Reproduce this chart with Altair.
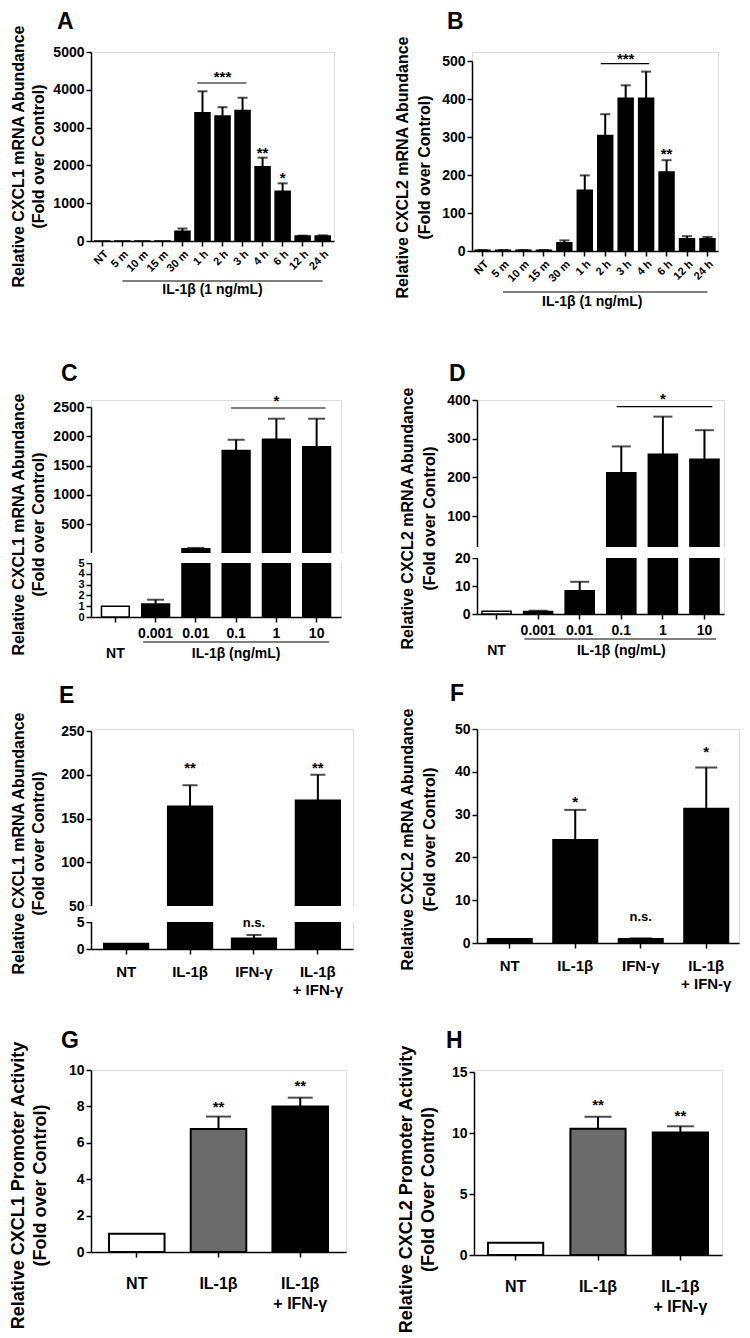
import altair as alt
import pandas as pd

FONT = "Liberation Sans"

# ---------------- data ----------------
A_cats = ["NT", "5 m", "10 m", "15 m", "30 m", "1 h", "2 h", "3 h", "4 h", "6 h", "12 h", "24 h"]
A_vals = [1, 1, 1, 1, 260, 3395, 3305, 3455, 1965, 1315, 130, 135]
A_errs = [0, 0, 0, 0, 70, 565, 235, 335, 240, 210, 12, 15]
A_sig_cats = ["2 h", "4 h", "6 h"]
A_sig_labels = ["***", "**", "*"]
A_sig_y = [4436, 2425, 1764]

B_cats = A_cats
B_vals = [2, 2, 2, 2, 22, 160, 304, 402, 402, 208, 32, 32]
B_errs = [0.5, 0.5, 0.5, 0.5, 6, 39, 56, 34, 70, 31, 7, 5]
B_sig_cats = ["3 h", "6 h"]
B_sig_labels = ["***", "**"]
B_sig_y = [515, 265]

C_cats = ["NT", "0.001", "0.01", "0.1", "1", "10"]
C_vals = [1.0, 1.2, 78, 1755, 1950, 1820]
C_errs = [0, 0.4, 14, 185, 350, 480]
C_sig_cats = ["1"]
C_sig_labels = ["*"]
C_sig_y = [2677]

D_cats = C_cats
D_vals = [1.0, 0.9, 8.3, 212, 260, 247]
D_errs = [0, 0.3, 3.2, 68, 97, 75]
D_sig_cats = ["1"]
D_sig_labels = ["*"]
D_sig_y = [413]

E_cats = ["NT", "IL-1β", "IFN-γ", "IL-1β + IFN-γ"]
E_vals = [1.0, 164, 2.0, 171]
E_errs = [0, 24, 0.6, 29]
E_sig_cats = ["IL-1β", "IL-1β + IFN-γ", "IFN-γ"]
E_sig_labels = ["**", "**", "n.s."]
E_sig_y = [212, 212, 4.75]

F_cats = E_cats
F_vals = [1.0, 24.1, 1.0, 31.4]
F_errs = [0, 7.0, 0.1, 9.6]
F_sig_cats = ["IL-1β", "IL-1β + IFN-γ", "IFN-γ"]
F_sig_labels = ["*", "*", "n.s."]
F_sig_y = [33.9, 45.6, 6.0]

G_cats = ["NT", "IL-1β", "IL-1β + IFN-γ"]
G_vals = [1.0, 6.76, 7.99]
G_errs = [0, 0.68, 0.49]
G_sig_cats = ["IL-1β", "IL-1β + IFN-γ"]
G_sig_labels = ["**", "**"]
G_sig_y = [8.2, 9.36]

H_cats = G_cats
H_vals = [1.0, 10.35, 10.05]
H_errs = [0, 0.98, 0.5]
H_sig_cats = ["IL-1β", "IL-1β + IFN-γ"]
H_sig_labels = ["**", "**"]
H_sig_y = [12.6, 11.7]

TIME_FILLS = ["black"] * 12
DOSE_FILLS = ["white"] + ["black"] * 5
COMBO4_FILLS = ["black"] * 4
PROMO_FILLS = ["white", "#6b6b6b", "black"]

COMBO_EXPR = ("datum.value == 'IL-1β + IFN-γ' ? ['IL-1β', '+ IFN-γ'] : datum.value")


def panel(cats, vals, errs, fills, *, letter, letter_pos, w, h, ydom, yrng, yvals,
          ytitle, title_x, title_y, title_lh, band_in, band_out, cap, xaxis,
          sig_cats, sig_labels, sig_y, gap=None, bracket=None,
          group=None, extra_text=None, bar_sw=1.5, title_size=16, ylab_size=14):
    df = pd.DataFrame({"cat": cats, "val": vals, "err": errs, "fill": fills})
    df["top"] = df["val"] + df["err"]
    xsc = alt.Scale(domain=cats, paddingInner=band_in, paddingOuter=band_out)
    ysc = alt.Scale(domain=ydom, range=yrng, zero=False, nice=False)
    yaxis = alt.Axis(values=yvals, tickCount=40, title=ytitle, titleX=title_x, titleY=title_y,
                     titleLineHeight=title_lh, titleFontSize=title_size,
                     titleBaseline="alphabetic", titleAngle=270, titleAlign="center",
                     format="d", labelFontSize=ylab_size, labelPadding=2, labelOverlap=False)
    bars = alt.Chart(df).mark_bar(stroke="black", strokeWidth=bar_sw).encode(
        x=alt.X("cat:N", scale=xsc, axis=xaxis, title=None),
        y=alt.Y("val:Q", scale=ysc, axis=yaxis),
        y2=alt.datum(0),
        fill=alt.Fill("fill:N", scale=None),
    )
    errdf = df[df["err"] > 0]
    rules = alt.Chart(errdf).mark_rule(color="black", strokeWidth=2).encode(
        x="cat:N", y="val:Q", y2="top:Q")
    caps = alt.Chart(errdf).mark_tick(color="black", thickness=2, size=cap).encode(
        x="cat:N", y="top:Q")
    layers = [bars, rules, caps]
    if gap is not None:
        gdf = pd.DataFrame({"lo": [gap[0]], "hi": [gap[1]]})
        layers.append(alt.Chart(gdf).mark_rect(color="white").encode(
            x=alt.value(-4), x2=alt.value(w + 2), y="lo:Q", y2="hi:Q"))
    sdf = pd.DataFrame({"cat": sig_cats, "lab": sig_labels, "y": sig_y})
    star = sdf[sdf["lab"] != "n.s."]
    ns = sdf[sdf["lab"] == "n.s."]
    layers.append(alt.Chart(star).mark_text(font=FONT, fontSize=15, fontWeight="bold",
                                            baseline="middle", dy=4, color="black").encode(
        x="cat:N", y="y:Q", text="lab:N"))
    if len(ns):
        layers.append(alt.Chart(ns).mark_text(font=FONT, fontSize=13, fontWeight="bold",
                                              baseline="middle", color="black").encode(
            x="cat:N", y="y:Q", text="lab:N"))
    if bracket is not None:
        c1, c2, yv, b1, b2 = bracket
        bdf = pd.DataFrame({"c1": [c1], "c2": [c2], "y": [yv]})
        layers.append(alt.Chart(bdf).mark_rule(color="black", strokeWidth=1.2).encode(
            x=alt.X("c1:N", bandPosition=b1), x2=alt.X2("c2", bandPosition=b2), y="y:Q"))
    if group is not None:
        c1, c2, b1, b2, ly, tcat, ttext, ty, tdx = group
        gdf2 = pd.DataFrame({"c1": [c1], "c2": [c2]})
        layers.append(alt.Chart(gdf2).mark_rule(color="black", strokeWidth=1.2).encode(
            x=alt.X("c1:N", bandPosition=b1), x2=alt.X2("c2", bandPosition=b2),
            y=alt.value(h + ly)))
        tdf = pd.DataFrame({"cat": [tcat], "t": [ttext]})
        layers.append(alt.Chart(tdf).mark_text(font=FONT, fontSize=14, fontWeight="bold",
                                               baseline="middle", dx=tdx, color="black").encode(
            x="cat:N", y=alt.value(h + ty), text="t:N"))
    if extra_text is not None:
        ecat, etext, ey = extra_text
        edf = pd.DataFrame({"cat": [ecat], "t": [etext]})
        layers.append(alt.Chart(edf).mark_text(font=FONT, fontSize=14, fontWeight="bold",
                                               baseline="middle", color="black").encode(
            x="cat:N", y=alt.value(h + ey), text="t:N"))
    ldf = pd.DataFrame({"t": [letter]})
    layers.append(alt.Chart(ldf).mark_text(font=FONT, fontSize=23, fontWeight="bold",
                                           align="left", baseline="alphabetic",
                                           color="black").encode(
        x=alt.value(letter_pos[0]), y=alt.value(letter_pos[1]), text="t:N"))
    return alt.layer(*layers).properties(width=w, height=h)


x_time = alt.Axis(labelAngle=-45, labelFontSize=11, labelPadding=2)
x_dose = alt.Axis(labelExpr="datum.value == 'NT' ? '' : datum.value", labelFontSize=14,
                  labelAngle=0, labelPadding=4)
x_combo = alt.Axis(labelExpr=COMBO_EXPR, labelFontSize=15, labelBaseline="middle",
                   labelAngle=0, labelPadding=17, labelLineHeight=18)
x_promo = alt.Axis(labelExpr=COMBO_EXPR, labelFontSize=16, labelBaseline="middle",
                   labelAngle=0, labelPadding=26, labelLineHeight=20)

T1 = ["Relative CXCL1 mRNA Abundance", "(Fold over Control)"]
T2 = ["Relative CXCL2 mRNA Abundance", "(Fold over Control)"]

SMALL_LOW = {"condition": {"test": "datum.value <= 5", "value": 11}, "value": 14}

pA = panel(A_cats, A_vals, A_errs, TIME_FILLS, letter="A", letter_pos=(-34, -23),
           w=243, h=189, ydom=[0, 5000], yrng=[189, 0],
           yvals=[0, 1000, 2000, 3000, 4000, 5000],
           ytitle=T1, title_x=-68, title_y=104, title_lh=20, band_in=0.25, band_out=0.19,
           cap=10, xaxis=x_time, sig_cats=A_sig_cats, sig_labels=A_sig_labels, sig_y=A_sig_y,
           bracket=("1 h", "3 h", 4180, 0.15, 0.75),
           group=("5 m", "24 h", 0.5, 0.5, 40, "2 h", "IL-1β  (1 ng/mL)", 49, -10))
pB = panel(B_cats, B_vals, B_errs, TIME_FILLS, letter="B", letter_pos=(-25, -23),
           w=246, h=199, ydom=[0, 500], yrng=[199, 9],
           yvals=[0, 100, 200, 300, 400, 500],
           ytitle=T2, title_x=-65, title_y=115, title_lh=22, band_in=0.27, band_out=0.15,
           cap=10, xaxis=x_time, sig_cats=B_sig_cats, sig_labels=B_sig_labels, sig_y=B_sig_y,
           bracket=("2 h", "4 h", 493, 0.2, 0.7),
           group=("5 m", "24 h", 0.5, 0.5, 41, "2 h", "IL-1β  (1 ng/mL)", 51, -13))
pC = panel(C_cats, C_vals, C_errs, DOSE_FILLS, letter="C", letter_pos=(-30, -19),
           w=250, h=217, ydom=[0, 5, 5.001, 2500], yrng=[217, 163, 153, 7],
           yvals=[0, 1, 2, 3, 4, 5, 500, 1000, 1500, 2000, 2500],
           ytitle=T1, title_x=-68, title_y=124, title_lh=20, band_in=0.31, band_out=0.26,
           cap=17, xaxis=x_dose, sig_cats=C_sig_cats, sig_labels=C_sig_labels, sig_y=C_sig_y,
           gap=(5, 5.001), bracket=("0.1", "10", 2483, 0.32, 0.82),
           group=("0.001", "10", 0.05, 0.95, 25, "0.1", "IL-1β (ng/mL)", 37, 0),
           extra_text=("NT", "NT", 37), ylab_size=SMALL_LOW)
pD = panel(D_cats, D_vals, D_errs, DOSE_FILLS, letter="D", letter_pos=(-28, -19),
           w=247, h=214, ydom=[0, 20, 20.01, 400], yrng=[214, 158, 147, 0],
           yvals=[0, 10, 20, 100, 200, 300, 400],
           ytitle=T2, title_x=-65, title_y=118, title_lh=22, band_in=0.3, band_out=0.12,
           cap=19, xaxis=x_dose, sig_cats=D_sig_cats, sig_labels=D_sig_labels, sig_y=D_sig_y,
           gap=(20, 20.01), bracket=("0.1", "10", 383, 0.34, 0.77),
           group=("0.001", "10", 0.03, 0.9, 25, "0.1", "IL-1β (ng/mL)", 37, 0),
           extra_text=("NT", "NT", 37))
pE = panel(E_cats, E_vals, E_errs, COMBO4_FILLS, letter="E", letter_pos=(-32, -26),
           w=262, h=220, ydom=[0, 5, 50, 250], yrng=[220, 193, 177, 2],
           yvals=[0, 5, 50, 100, 150, 200, 250],
           ytitle=T1, title_x=-68, title_y=114, title_lh=20, band_in=0.3, band_out=0.2,
           cap=15, xaxis=x_combo, sig_cats=E_sig_cats, sig_labels=E_sig_labels, sig_y=E_sig_y,
           gap=(5, 50))
pF = panel(F_cats, F_vals, F_errs, COMBO4_FILLS, letter="F", letter_pos=(-27, -28),
           w=262, h=214, ydom=[0, 50], yrng=[214, 0], yvals=[0, 10, 20, 30, 40, 50],
           ytitle=T2, title_x=-65, title_y=110, title_lh=22, band_in=0.32, band_out=0.16,
           cap=22, xaxis=x_combo, sig_cats=F_sig_cats, sig_labels=F_sig_labels, sig_y=F_sig_y)
pG = panel(G_cats, G_vals, G_errs, PROMO_FILLS, letter="G", letter_pos=(-30, -22),
           w=255, h=182, ydom=[0, 10], yrng=[182, 0], yvals=[0, 2, 4, 6, 8, 10],
           ytitle=["Relative CXCL1 Promoter Activity", "(Fold over Control)"],
           title_x=-68, title_y=115, title_lh=22, band_in=0.32, band_out=0.22, cap=25,
           xaxis=x_promo, sig_cats=G_sig_cats, sig_labels=G_sig_labels, sig_y=G_sig_y,
           bar_sw=2, title_size=18)
pH = panel(H_cats, H_vals, H_errs, PROMO_FILLS, letter="H", letter_pos=(-28, -22),
           w=248, h=185, ydom=[0, 15], yrng=[185, 2], yvals=[0, 5, 10, 15],
           ytitle=["Relative CXCL2 Promoter Activity", "(Fold Over Control)"],
           title_x=-63, title_y=119, title_lh=22, band_in=0.33, band_out=0.17, cap=27,
           xaxis=x_promo, sig_cats=H_sig_cats, sig_labels=H_sig_labels, sig_y=H_sig_y,
           bar_sw=2, title_size=18)

row1 = alt.hconcat(pA, pB, spacing=58)
row2 = alt.hconcat(pC, pD, spacing=54)
row3 = alt.hconcat(pE, pF, spacing=42)
row4 = alt.hconcat(pG, pH, spacing=49)

top = alt.vconcat(row1, row2, spacing=52)
mid = alt.vconcat(top, row3, spacing=20)
chart = (alt.vconcat(mid, row4, spacing=31)
         .properties(padding={"top": 2, "left": 0, "right": 0, "bottom": 0})
         .configure_view(stroke=None)
         .configure(background="white")
         .configure_axis(domainColor="black", domainWidth=1.5, tickColor="black",
                         tickWidth=1.5, tickSize=5, labelColor="black", labelFont=FONT,
                         labelFontWeight="bold", grid=False, zindex=0, titleFont=FONT,
                         titleFontWeight="bold", titleColor="black", labelOverlap=False))

chart.save("out.html", embed_options={"renderer": "svg", "actions": False})
